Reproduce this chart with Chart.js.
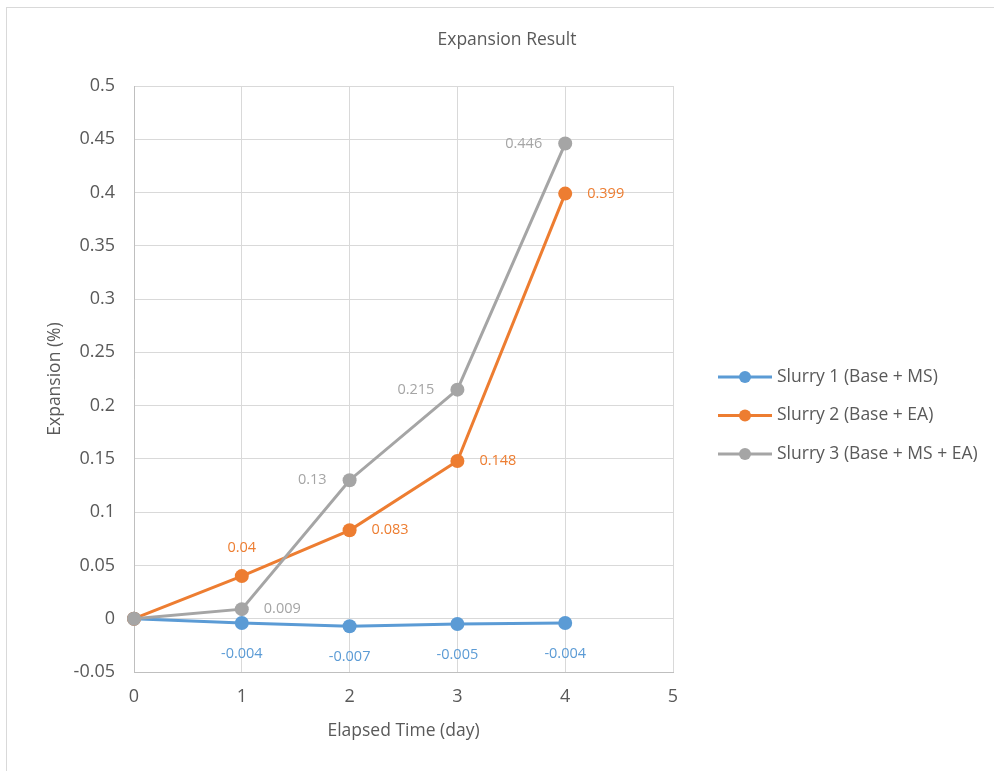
<!DOCTYPE html>
<html>
<head>
<meta charset="utf-8">
<script src="https://cdn.jsdelivr.net/npm/chart.js@4.4.0/dist/chart.umd.min.js"></script>
<style>
    html, body { margin: 0; padding: 0; background: #ffffff; }
</style>
</head>
<body>
<canvas id="expansion_chart" width="994" height="771"></canvas>
<script>
// データ
const days = [0, 1, 2, 3, 4];
const slurry1 = [0, -0.004, -0.007, -0.005, -0.004];
const slurry2 = [0, 0.04, 0.083, 0.148, 0.399];
const slurry3 = [0, 0.009, 0.13, 0.215, 0.446];
const seriesNames = ['Slurry 1 (Base + MS)', 'Slurry 2 (Base + EA)', 'Slurry 3 (Base + MS + EA)'];
const yTickMin = -0.05;
const yTickMax = 0.5;
const yTickStep = 0.05;
const xTickMax = 5;

const seriesColors = ['#5B9BD5', '#ED7D31', '#A5A5A5'];
const textColor = '#595959';
const fontFamily = "'Open Sans', sans-serif";
// データラベルの位置
const labelSides = [
    [null, 'below', 'below', 'below', 'below'],
    [null, 'above', 'right', 'right', 'right'],
    [null, 'right', 'left', 'left', 'left']
];

function toPoints(values) {
    return values.map(function (v, i) { return { x: days[i], y: v }; });
}

// 枠線
const framePlugin = {
    id: 'frame',
    beforeDraw: function (chart) {
        const ctx = chart.ctx;
        ctx.save();
        ctx.fillStyle = '#ffffff';
        ctx.fillRect(0, 0, chart.width, chart.height);
        ctx.strokeStyle = '#d9d9d9';
        ctx.lineWidth = 1;
        ctx.strokeRect(6.5, 7.5, chart.width + 20, chart.height + 20);
        ctx.restore();
    }
};

// データラベル
const dataLabelPlugin = {
    id: 'dataLabels',
    afterDatasetsDraw: function (chart) {
        const ctx = chart.ctx;
        ctx.save();
        ctx.font = '14.5px ' + fontFamily;
        chart.data.datasets.forEach(function (ds, i) {
            const meta = chart.getDatasetMeta(i);
            meta.data.forEach(function (pt, j) {
                const side = labelSides[i][j];
                if (!side) return;
                const text = String(ds.data[j].y);
                let x = pt.x, y = pt.y;
                ctx.textBaseline = 'middle';
                if (side === 'below') { ctx.textAlign = 'center'; y += 31; }
                if (side === 'above') { ctx.textAlign = 'center'; y -= 28; }
                if (side === 'right') { ctx.textAlign = 'left'; x += 22; }
                if (side === 'left') { ctx.textAlign = 'right'; x -= 23; }
                ctx.fillStyle = seriesColors[i];
                ctx.fillText(text, x, y);
            });
        });
        ctx.restore();
    }
};

// 凡例（線＋マーカー）
const legendPlugin = {
    id: 'lineLegend',
    afterDraw: function (chart) {
        const ctx = chart.ctx;
        const area = chart.chartArea;
        const x0 = area.right + 45;
        const y0 = area.top + 291;
        ctx.save();
        ctx.font = '17.5px ' + fontFamily;
        ctx.textBaseline = 'middle';
        ctx.textAlign = 'left';
        chart.data.datasets.forEach(function (ds, i) {
            const y = y0 + i * 38.5;
            ctx.strokeStyle = seriesColors[i];
            ctx.lineWidth = 3;
            ctx.beginPath();
            ctx.moveTo(x0, y);
            ctx.lineTo(x0 + 54, y);
            ctx.stroke();
            ctx.fillStyle = seriesColors[i];
            ctx.beginPath();
            ctx.arc(x0 + 27, y, 6, 0, Math.PI * 2);
            ctx.fill();
            ctx.fillStyle = textColor;
            ctx.fillText(ds.label, x0 + 59, y);
        });
        ctx.restore();
    }
};

function makeDataset(i, values, order) {
    return {
        label: seriesNames[i],
        data: toPoints(values),
        borderColor: seriesColors[i],
        backgroundColor: seriesColors[i],
        borderWidth: 3,
        pointRadius: 7,
        pointHoverRadius: 7,
        pointBorderWidth: 0,
        showLine: true,
        clip: false,
        order: order
    };
}

const ctx = document.querySelector('#expansion_chart').getContext('2d');
const expansionChart = new Chart(ctx, {
    type: 'scatter',
    data: {
        datasets: [
            makeDataset(0, slurry1, 2),
            makeDataset(1, slurry2, 1),
            makeDataset(2, slurry3, 0)
        ]
    },
    options: {
        responsive: false,
        animation: false,
        layout: { padding: { left: 20, right: 0, top: 0, bottom: 0 } },
        plugins: {
            legend: { display: false },
            tooltip: { enabled: false },
            title: {
                display: true,
                text: 'Expansion Result',
                color: textColor,
                font: { family: fontFamily, size: 17.5, weight: 'normal' },
                padding: { top: 29.5, bottom: 35.5 }
            }
        },
        scales: {
            x: {
                type: 'linear',
                min: 0,
                max: xTickMax,
                ticks: {
                    stepSize: 1,
                    color: textColor,
                    font: { family: fontFamily, size: 18 },
                    padding: 14
                },
                grid: { color: '#d9d9d9', drawTicks: false },
                border: { color: '#bfbfbf' },
                title: {
                    display: true,
                    text: 'Elapsed Time (day)',
                    color: textColor,
                    font: { family: fontFamily, size: 17.5 },
                    padding: { top: 0, bottom: 29.5 }
                },
                afterFit: function (scale) { scale.height = 99; }
            },
            y: {
                type: 'linear',
                min: yTickMin,
                max: yTickMax,
                ticks: {
                    stepSize: yTickStep,
                    color: textColor,
                    font: { family: fontFamily, size: 18 },
                    padding: 19,
                    callback: function (v) { return String(Math.round(v * 100) / 100); }
                },
                grid: { color: '#d9d9d9', drawTicks: false },
                border: { color: '#bfbfbf' },
                title: {
                    display: true,
                    text: 'Expansion (%)',
                    color: textColor,
                    font: { family: fontFamily, size: 17.5 },
                    padding: { top: 24.5, bottom: 0 }
                },
                afterFit: function (scale) { scale.width = 114; }
            },
            legendSpace: {
                type: 'linear',
                position: 'right',
                display: true,
                ticks: { display: false },
                grid: { display: false },
                border: { display: false },
                afterFit: function (scale) { scale.width = 321; }
            }
        }
    },
    plugins: [framePlugin, dataLabelPlugin, legendPlugin]
});
</script>
</body>
</html>
